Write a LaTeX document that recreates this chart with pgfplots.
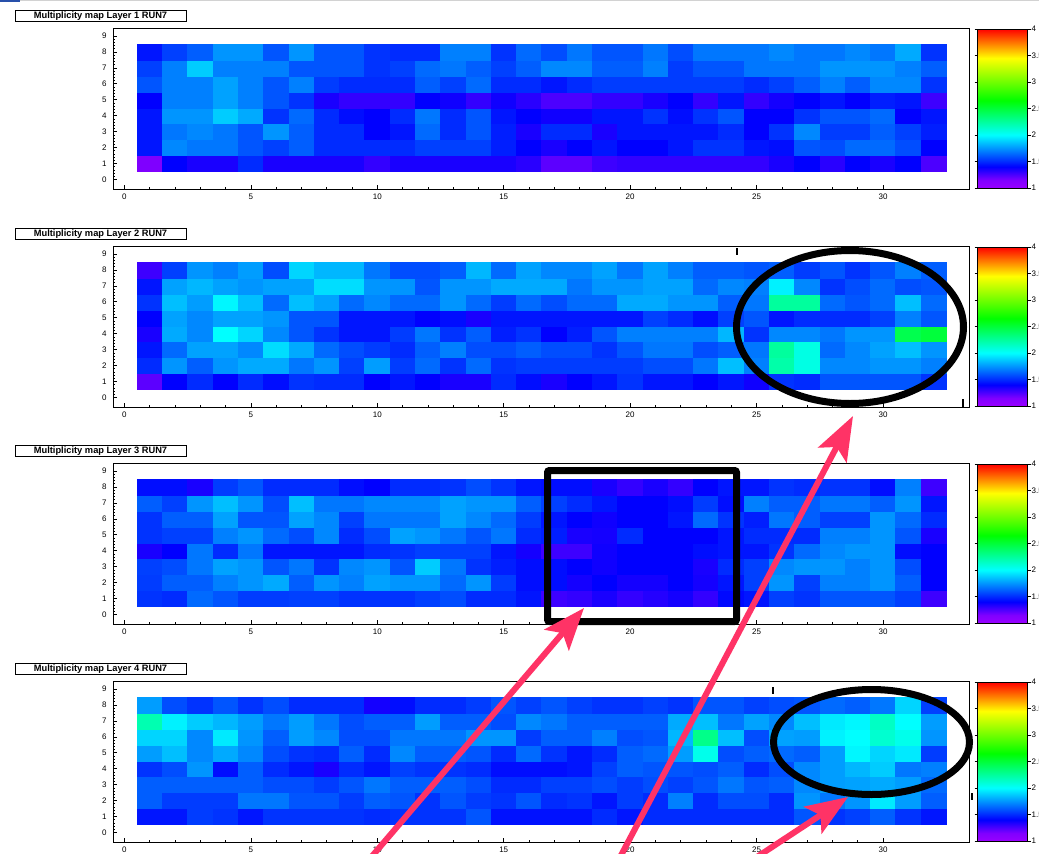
\documentclass[border=0pt]{standalone}
\usepackage{pgfplots}
\pgfplotsset{compat=1.18}
\usepackage{pgfplotstable}
\usepackage{fontspec}
\setmainfont{Liberation Sans}
\usetikzlibrary{arrows.meta}
\definecolor{arrowpink}{RGB}{255,51,102}
\definecolor{topblue}{RGB}{40,80,170}

% rows listed from y=1 (bottom) to y=8 (top), 32 cells each (x=1..32)
\pgfplotstableread[row sep=\\,header=false]{
1.15\\1.4\\1.35\\1.35\\1.5\\1.35\\1.35\\1.35\\1.35\\1.3\\1.35\\1.35\\1.35\\1.35\\1.35\\1.32\\1.22\\1.22\\1.28\\1.3\\1.3\\1.3\\1.3\\1.3\\1.3\\1.35\\1.4\\1.32\\1.4\\1.35\\1.4\\1.25\\
1.45\\1.72\\1.68\\1.68\\1.6\\1.55\\1.62\\1.5\\1.5\\1.5\\1.5\\1.55\\1.55\\1.55\\1.47\\1.4\\1.35\\1.4\\1.45\\1.4\\1.4\\1.45\\1.52\\1.52\\1.45\\1.43\\1.6\\1.58\\1.65\\1.65\\1.58\\1.4\\
1.45\\1.68\\1.72\\1.68\\1.6\\1.75\\1.62\\1.5\\1.5\\1.4\\1.45\\1.65\\1.5\\1.6\\1.47\\1.35\\1.5\\1.5\\1.35\\1.45\\1.45\\1.45\\1.45\\1.5\\1.4\\1.52\\1.72\\1.54\\1.54\\1.62\\1.55\\1.47\\
1.45\\1.75\\1.75\\1.88\\1.8\\1.52\\1.65\\1.5\\1.43\\1.4\\1.5\\1.68\\1.5\\1.6\\1.45\\1.4\\1.37\\1.37\\1.45\\1.45\\1.52\\1.43\\1.52\\1.6\\1.4\\1.4\\1.52\\1.6\\1.6\\1.65\\1.4\\1.45\\
1.4\\1.7\\1.7\\1.78\\1.7\\1.6\\1.52\\1.35\\1.3\\1.3\\1.3\\1.4\\1.37\\1.3\\1.37\\1.32\\1.25\\1.25\\1.3\\1.3\\1.35\\1.4\\1.3\\1.45\\1.3\\1.36\\1.4\\1.45\\1.4\\1.47\\1.45\\1.28\\
1.6\\1.7\\1.7\\1.78\\1.7\\1.6\\1.7\\1.54\\1.5\\1.5\\1.5\\1.62\\1.55\\1.65\\1.5\\1.5\\1.45\\1.5\\1.54\\1.54\\1.54\\1.54\\1.54\\1.54\\1.5\\1.55\\1.62\\1.7\\1.62\\1.72\\1.72\\1.52\\
1.55\\1.7\\1.88\\1.7\\1.7\\1.7\\1.6\\1.6\\1.6\\1.52\\1.55\\1.65\\1.68\\1.62\\1.55\\1.62\\1.72\\1.72\\1.62\\1.62\\1.7\\1.54\\1.6\\1.6\\1.68\\1.68\\1.68\\1.75\\1.75\\1.75\\1.7\\1.62\\
1.45\\1.55\\1.62\\1.75\\1.75\\1.6\\1.75\\1.6\\1.6\\1.52\\1.5\\1.5\\1.7\\1.7\\1.52\\1.65\\1.58\\1.68\\1.6\\1.6\\1.68\\1.58\\1.68\\1.68\\1.68\\1.72\\1.68\\1.68\\1.72\\1.68\\1.8\\1.52\\
}\layerA

\pgfplotstableread[row sep=\\,header=false]{
1.22\\1.4\\1.5\\1.4\\1.5\\1.43\\1.52\\1.5\\1.5\\1.4\\1.45\\1.4\\1.35\\1.35\\1.5\\1.43\\1.35\\1.4\\1.45\\1.52\\1.45\\1.45\\1.4\\1.45\\1.37\\1.52\\1.5\\1.6\\1.6\\1.6\\1.6\\1.52\\
1.5\\1.75\\1.62\\1.75\\1.8\\1.8\\1.68\\1.75\\1.55\\1.77\\1.54\\1.65\\1.52\\1.65\\1.52\\1.54\\1.54\\1.54\\1.54\\1.54\\1.58\\1.58\\1.68\\1.85\\1.7\\2.22\\2.07\\1.72\\1.72\\1.75\\1.75\\1.7\\
1.45\\1.65\\1.78\\1.78\\1.72\\1.92\\1.8\\1.65\\1.58\\1.54\\1.5\\1.62\\1.7\\1.58\\1.58\\1.62\\1.58\\1.58\\1.52\\1.6\\1.68\\1.68\\1.58\\1.62\\1.68\\2.25\\2.07\\1.65\\1.72\\1.78\\1.85\\1.75\\
1.35\\1.8\\1.72\\2.0\\1.9\\1.72\\1.6\\1.52\\1.45\\1.45\\1.54\\1.68\\1.52\\1.62\\1.47\\1.52\\1.4\\1.47\\1.6\\1.7\\1.7\\1.7\\1.7\\1.83\\1.52\\1.72\\1.72\\1.68\\1.75\\1.75\\2.45\\2.5\\
1.4\\1.78\\1.72\\1.78\\1.78\\1.75\\1.6\\1.6\\1.45\\1.45\\1.45\\1.4\\1.43\\1.35\\1.45\\1.45\\1.45\\1.45\\1.45\\1.45\\1.55\\1.5\\1.43\\1.55\\1.6\\1.45\\1.5\\1.5\\1.5\\1.55\\1.7\\1.6\\
1.52\\1.85\\1.77\\1.98\\1.85\\1.65\\1.85\\1.78\\1.65\\1.72\\1.65\\1.65\\1.75\\1.65\\1.54\\1.65\\1.58\\1.65\\1.65\\1.8\\1.8\\1.75\\1.75\\1.62\\1.68\\2.25\\2.25\\1.65\\1.6\\1.65\\1.85\\1.65\\
1.45\\1.78\\1.83\\1.78\\1.75\\1.78\\1.78\\1.92\\1.92\\1.75\\1.75\\1.6\\1.75\\1.75\\1.8\\1.8\\1.8\\1.68\\1.75\\1.75\\1.78\\1.78\\1.65\\1.72\\1.7\\1.97\\1.72\\1.52\\1.58\\1.65\\1.58\\1.6\\
1.28\\1.55\\1.75\\1.7\\1.77\\1.58\\1.9\\1.83\\1.83\\1.68\\1.58\\1.58\\1.62\\1.83\\1.65\\1.78\\1.72\\1.72\\1.78\\1.68\\1.78\\1.7\\1.62\\1.62\\1.6\\1.62\\1.54\\1.6\\1.52\\1.6\\1.7\\1.62\\
}\layerB

\pgfplotstableread[row sep=\\,header=false]{
1.52\\1.5\\1.65\\1.6\\1.54\\1.54\\1.55\\1.55\\1.52\\1.52\\1.52\\1.55\\1.58\\1.5\\1.5\\1.45\\1.28\\1.3\\1.35\\1.3\\1.33\\1.36\\1.3\\1.42\\1.45\\1.55\\1.52\\1.6\\1.6\\1.6\\1.55\\1.28\\
1.54\\1.62\\1.62\\1.7\\1.75\\1.8\\1.62\\1.75\\1.7\\1.78\\1.75\\1.75\\1.65\\1.75\\1.54\\1.43\\1.43\\1.36\\1.4\\1.36\\1.36\\1.4\\1.36\\1.45\\1.55\\1.75\\1.55\\1.7\\1.7\\1.75\\1.62\\1.4\\
1.55\\1.58\\1.68\\1.78\\1.75\\1.6\\1.68\\1.52\\1.72\\1.75\\1.6\\1.88\\1.68\\1.52\\1.47\\1.43\\1.43\\1.4\\1.37\\1.4\\1.4\\1.4\\1.35\\1.5\\1.55\\1.72\\1.75\\1.75\\1.7\\1.75\\1.58\\1.4\\
1.35\\1.4\\1.68\\1.5\\1.68\\1.45\\1.45\\1.45\\1.45\\1.5\\1.52\\1.55\\1.55\\1.55\\1.45\\1.36\\1.28\\1.28\\1.37\\1.4\\1.4\\1.4\\1.43\\1.45\\1.45\\1.52\\1.65\\1.72\\1.75\\1.75\\1.43\\1.4\\
1.52\\1.55\\1.55\\1.7\\1.75\\1.65\\1.58\\1.72\\1.5\\1.58\\1.78\\1.75\\1.68\\1.6\\1.68\\1.5\\1.47\\1.35\\1.36\\1.5\\1.4\\1.4\\1.4\\1.45\\1.5\\1.5\\1.5\\1.7\\1.7\\1.75\\1.6\\1.35\\
1.52\\1.62\\1.62\\1.78\\1.6\\1.6\\1.78\\1.72\\1.55\\1.68\\1.68\\1.68\\1.78\\1.72\\1.65\\1.54\\1.45\\1.4\\1.37\\1.4\\1.4\\1.45\\1.65\\1.52\\1.47\\1.68\\1.62\\1.55\\1.55\\1.75\\1.65\\1.5\\
1.62\\1.55\\1.75\\1.85\\1.75\\1.58\\1.85\\1.68\\1.68\\1.72\\1.72\\1.72\\1.78\\1.75\\1.75\\1.62\\1.55\\1.5\\1.45\\1.4\\1.4\\1.43\\1.54\\1.43\\1.7\\1.62\\1.62\\1.68\\1.68\\1.62\\1.75\\1.45\\
1.43\\1.43\\1.35\\1.54\\1.6\\1.5\\1.5\\1.5\\1.43\\1.4\\1.5\\1.5\\1.52\\1.58\\1.52\\1.45\\1.43\\1.43\\1.35\\1.3\\1.35\\1.3\\1.4\\1.45\\1.45\\1.52\\1.5\\1.52\\1.52\\1.43\\1.7\\1.28\\
}\layerC

\pgfplotstableread[row sep=\\,header=false]{
1.45\\1.45\\1.54\\1.52\\1.45\\1.52\\1.52\\1.52\\1.52\\1.5\\1.52\\1.52\\1.52\\1.6\\1.44\\1.44\\1.44\\1.44\\1.5\\1.45\\1.5\\1.5\\1.5\\1.5\\1.5\\1.5\\1.6\\1.52\\1.55\\1.62\\1.52\\1.45\\
1.62\\1.54\\1.54\\1.54\\1.68\\1.68\\1.6\\1.6\\1.54\\1.62\\1.6\\1.52\\1.6\\1.54\\1.52\\1.6\\1.5\\1.52\\1.45\\1.54\\1.5\\1.7\\1.5\\1.58\\1.58\\1.5\\1.75\\1.68\\1.75\\1.95\\1.77\\1.62\\
1.62\\1.62\\1.62\\1.62\\1.62\\1.58\\1.58\\1.54\\1.6\\1.68\\1.62\\1.62\\1.62\\1.58\\1.5\\1.5\\1.55\\1.55\\1.58\\1.54\\1.58\\1.55\\1.6\\1.68\\1.6\\1.62\\1.72\\1.77\\1.78\\1.8\\1.77\\1.65\\
1.52\\1.58\\1.75\\1.43\\1.62\\1.5\\1.45\\1.35\\1.5\\1.45\\1.55\\1.52\\1.52\\1.5\\1.43\\1.43\\1.43\\1.45\\1.55\\1.62\\1.6\\1.6\\1.58\\1.62\\1.5\\1.58\\1.72\\1.77\\1.83\\1.88\\1.68\\1.7\\
1.77\\1.85\\1.72\\1.8\\1.72\\1.58\\1.52\\1.5\\1.62\\1.5\\1.72\\1.62\\1.62\\1.6\\1.5\\1.65\\1.52\\1.45\\1.5\\1.62\\1.65\\1.77\\2.05\\1.58\\1.62\\1.65\\1.62\\1.77\\1.98\\1.9\\1.95\\1.54\\
1.9\\1.9\\1.72\\1.95\\1.75\\1.62\\1.77\\1.72\\1.58\\1.58\\1.68\\1.68\\1.68\\1.75\\1.75\\1.54\\1.62\\1.62\\1.7\\1.58\\1.6\\1.83\\2.3\\1.85\\1.58\\1.78\\1.77\\1.97\\2.0\\2.12\\2.05\\1.75\\
2.2\\1.97\\1.88\\1.83\\1.77\\1.68\\1.77\\1.68\\1.58\\1.62\\1.62\\1.77\\1.62\\1.62\\1.58\\1.72\\1.68\\1.62\\1.62\\1.62\\1.62\\1.8\\1.85\\1.68\\1.78\\1.72\\1.85\\1.95\\1.98\\2.15\\2.0\\1.77\\
1.77\\1.58\\1.52\\1.6\\1.52\\1.58\\1.5\\1.5\\1.5\\1.36\\1.43\\1.5\\1.5\\1.54\\1.6\\1.55\\1.6\\1.55\\1.52\\1.52\\1.55\\1.52\\1.6\\1.6\\1.55\\1.58\\1.6\\1.65\\1.62\\1.68\\1.9\\1.55\\
}\layerD

\pgfplotsset{
  colormap={rootpal}{rgb(0cm)=(0.6,0,1); rgb(3cm)=(0.5,0,1); rgb(8cm)=(0,0,1); rgb(20cm)=(0,1,1); rgb(33cm)=(0,1,0); rgb(49cm)=(1,1,0); rgb(60cm)=(1,0,0)},
  mapstyle/.style={
    scale only axis, width=856pt, height=161pt,
    xmin=-0.45, xmax=33.4, ymin=-0.6, ymax=9.5,
    colormap name=rootpal, point meta min=1, point meta max=4,
    axis line style={line width=0.8pt},
    xtick={0,5,...,30}, ytick={0,1,...,9},
    minor x tick num=4, minor y tick num=4,
    tick align=inside, xtick pos=bottom, ytick pos=left,
    major tick length=4pt, minor tick length=2pt,
    tick style={black, line width=0.6pt},
    ticklabel style={font=\fontsize{8}{9}\selectfont},
    /pgf/number format/assume math mode=true,
    yticklabel style={xshift=-3pt},
    xticklabel style={yshift=-1pt},
    colorbar,
    colorbar/width=50pt,
    colorbar style={
      scale only axis,
      height=159pt,
      at={(parent axis.north east)}, anchor=north west,
      xshift=0pt, yshift=-1pt,
      ytick={1,1.5,2,2.5,3,3.5,4},
      yticklabels={1,1.5,2,2.5,3,3.5,4},
      minor y tick num=0,
      tick align=outside,
      major tick length=3pt,
      tick style={black, line width=0.6pt},
      yticklabel style={font=\fontsize{8}{9}\selectfont, xshift=-2.5pt},
      axis line style={line width=0.6pt},
    },
  },
}

\newcommand{\mapplot}[1]{%
  \addplot[matrix plot*, mesh/cols=32, mesh/rows=8, point meta=explicit]
    table[x index=0, y index=0, meta index=0,
      x expr={\coordindex-32*floor((\coordindex+0.5)/32)+1},
      y expr={floor((\coordindex+0.5)/32)+1}] {#1};
}

\begin{document}
\begin{tikzpicture}
\useasboundingbox (0pt,0pt) rectangle (1039pt,-854pt);
\clip (0pt,0pt) rectangle (1039pt,-854pt);
\fill[white] (0pt,0pt) rectangle (1039pt,-854pt);

\begin{axis}[mapstyle, at={(113pt,-28pt)}, anchor=north west]
\mapplot{\layerA}
\end{axis}
\begin{axis}[mapstyle, at={(113pt,-246pt)}, anchor=north west]
\mapplot{\layerB}
\end{axis}
\begin{axis}[mapstyle, at={(113pt,-463pt)}, anchor=north west]
\mapplot{\layerC}
\end{axis}
\begin{axis}[mapstyle, at={(113pt,-681pt)}, anchor=north west]
\mapplot{\layerD}
\end{axis}

\begin{scope}[x=1pt,y=-1pt]
  % slide artefacts at the top
  \fill[topblue] (0,0) rectangle (20,2);
  \draw[gray!35, line width=0.8pt] (20,0.6) -- (1039,0.6);
  % title boxes
  \foreach \i/\off in {1/0,2/218,3/435,4/653}{
    \fill[black] (16.2,{11.2+\off}) rectangle (187.2,{22.2+\off});
    \draw[fill=white, line width=0.8pt] (15,{10+\off}) rectangle (186,{21+\off});
    \node[font=\fontsize{9.3}{10}\selectfont\bfseries, inner sep=0pt] at (100.5,{15.7+\off}) {Multiplicity map Layer \i\ RUN7};
  }
  % stray tick marks
  \draw[line width=1.1pt] (737,248) -- (737,255);
  \draw[line width=1.1pt] (963,399) -- (963,407);
  \draw[line width=1.1pt] (773,687) -- (773,694);
  \draw[line width=1.1pt] (972,793) -- (972,800);
  % annotations
  \draw[line width=7pt] (850,327) ellipse [x radius=113.5pt, y radius=76.5pt];
  \draw[line width=7pt, rounded corners=2pt] (547.5,470.5) rectangle (736.5,621.5);
  \draw[line width=7pt] (871.5,742) ellipse [x radius=98pt, y radius=52.5pt];
  \draw[arrowpink, line width=6pt, -{Stealth[length=42pt, width=32pt, inset=9pt]}] (351.7,880) -- (584,608);
  \draw[arrowpink, line width=6pt, -{Stealth[length=44pt, width=32pt, inset=9pt]}] (608,880) -- (853,416);
  \draw[arrowpink, line width=6pt, -{Stealth[length=42pt, width=32pt, inset=9pt]}] (722,880) -- (848,797);
\end{scope}
\end{tikzpicture}
\end{document}
